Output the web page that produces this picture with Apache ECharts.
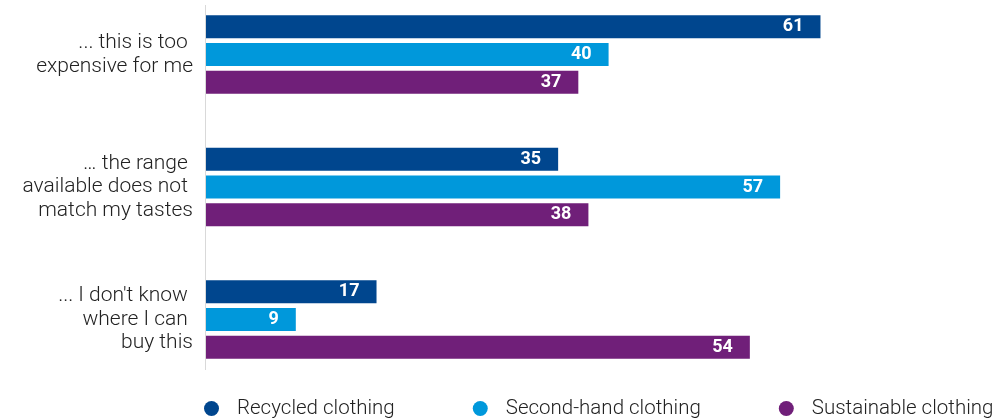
<!DOCTYPE html>
<html><head><meta charset="utf-8">
<script src="https://cdn.jsdelivr.net/npm/echarts@6/dist/echarts.min.js"></script>
<style>html,body{margin:0;padding:0;background:#fff}#c{width:992px;height:420px}</style>
</head><body><div id="c"></div>
<script>
const categories = ["... this is too \nexpensive for me", "\u2026 the range \navailable does not \nmatch my tastes", "... I don't know \nwhere I can \nbuy this"];
const seriesNames = ["Recycled clothing", "Second-hand clothing", "Sustainable clothing"];
const recycled = [61, 35, 17];
const secondHand = [40, 57, 9];
const sustainable = [37, 38, 54];
const colors = ["#00468E", "#0098DB", "#701F79"];
const values = [recycled, secondHand, sustainable];

const chart = echarts.init(document.getElementById('c'), null, {renderer: 'canvas'});
const font = 'Roboto';
chart.setOption({
  animation: false,
  textStyle: {fontFamily: font},
  grid: {left: 205, top: 54.5, width: 790, height: 265, containLabel: false},
  xAxis: {type: 'value', min: 0, max: 78, show: false},
  yAxis: {type: 'category', data: categories, inverse: true, boundaryGap: false,
    axisLine: {show: false}, axisTick: {show: false},
    axisLabel: {fontFamily: font, fontSize: 21, fontWeight: 300, color: '#222', margin: 12, lineHeight: 23.5, align: 'right'}},
  legend: {top: 398, left: 204, width: 900, padding: 0, icon: 'circle', itemWidth: 15, itemHeight: 15, itemGap: 78,
    textStyle: {fontFamily: font, fontSize: 20.5, fontWeight: 300, color: '#222', padding: [0, 0, 0, 13]}, data: seriesNames},
  graphic: [{type: 'line', shape: {x1: 205.5, y1: 5, x2: 205.5, y2: 370}, style: {stroke: '#d9d9d9', lineWidth: 1}, z: 10}],
  series: seriesNames.map((n, i) => ({
    name: n, type: 'bar', data: values[i], barWidth: 23, barGap: '21%',
    itemStyle: {color: colors[i]},
    label: {show: true, position: 'insideRight', distance: 17, color: '#fff', fontWeight: 'bold', fontSize: 18, fontFamily: font}
  }))
});
</script></body></html>
